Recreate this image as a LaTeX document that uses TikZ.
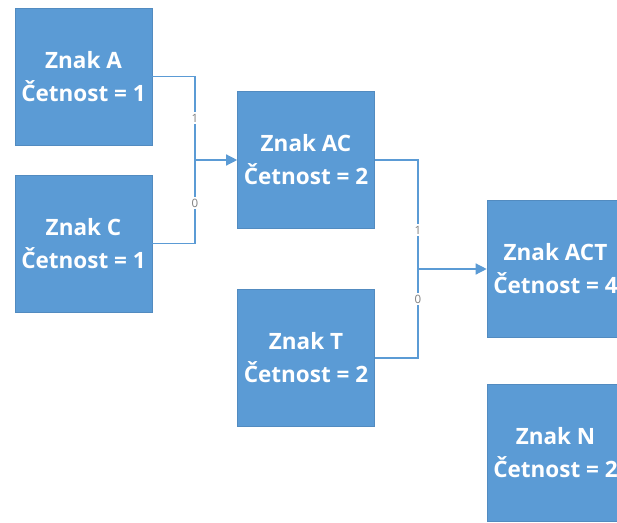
\documentclass[tikz,border=0pt]{standalone}
\usepackage{fontspec}
\setmainfont{Open Sans}
\usetikzlibrary{arrows.meta}
\definecolor{boxblue}{HTML}{5B9BD5}
\definecolor{lblgray}{HTML}{7F7F7F}
\tikzset{
  symbox/.style={fill=boxblue, draw=boxblue!90!black, line width=0.6pt,
    minimum width=137pt, minimum height=137pt, inner sep=0pt,
    text=white, align=center,
    font=\fontsize{22.5}{33}\selectfont\bfseries},
  link/.style={draw=boxblue, line width=1.3pt},
  arr/.style={link, -{Triangle[length=11pt,width=11pt]}},
  bit/.style={fill=white, text=lblgray, inner sep=1.5pt,
    font=\fontsize{11.5}{12}\selectfont}
}
\begin{document}
\begin{tikzpicture}[x=1pt,y=-1pt]
  \useasboundingbox (0,0) rectangle (617,522);
  \clip (0,0) rectangle (617,522);
  \node[symbox] (a)   at (83.5,76.5)  {Znak A\\Četnost = 1};
  \node[symbox] (c)   at (83.5,243.5) {Znak C\\Četnost = 1};
  \node[symbox] (ac)  at (306,160)    {Znak AC\\Četnost = 2};
  \node[symbox] (t)   at (306,358)    {Znak T\\Četnost = 2};
  \node[symbox] (act) at (555.5,269)  {Znak ACT\\Četnost = 4};
  \node[symbox] (n)   at (555.5,453)  {Znak N\\Četnost = 2};

  % merge of A and C into AC
  \coordinate (j1) at (195,160);
  \draw[link] (a.east) -| (j1) |- (c.east);
  \draw[arr] (j1) -- (ac.west);
  \node[bit] (b1) at (195,118) {1};
  \node[bit] (b0) at (195,203) {0};

  % merge of AC and T into ACT
  \coordinate (j2) at (418,269);
  \draw[link] (ac.east) -| (j2) |- (t.east);
  \draw[arr] (j2) -- (act.west);
  \node[bit] (d1) at (418,230) {1};
  \node[bit] (d0) at (418,299) {0};
\end{tikzpicture}
\end{document}
